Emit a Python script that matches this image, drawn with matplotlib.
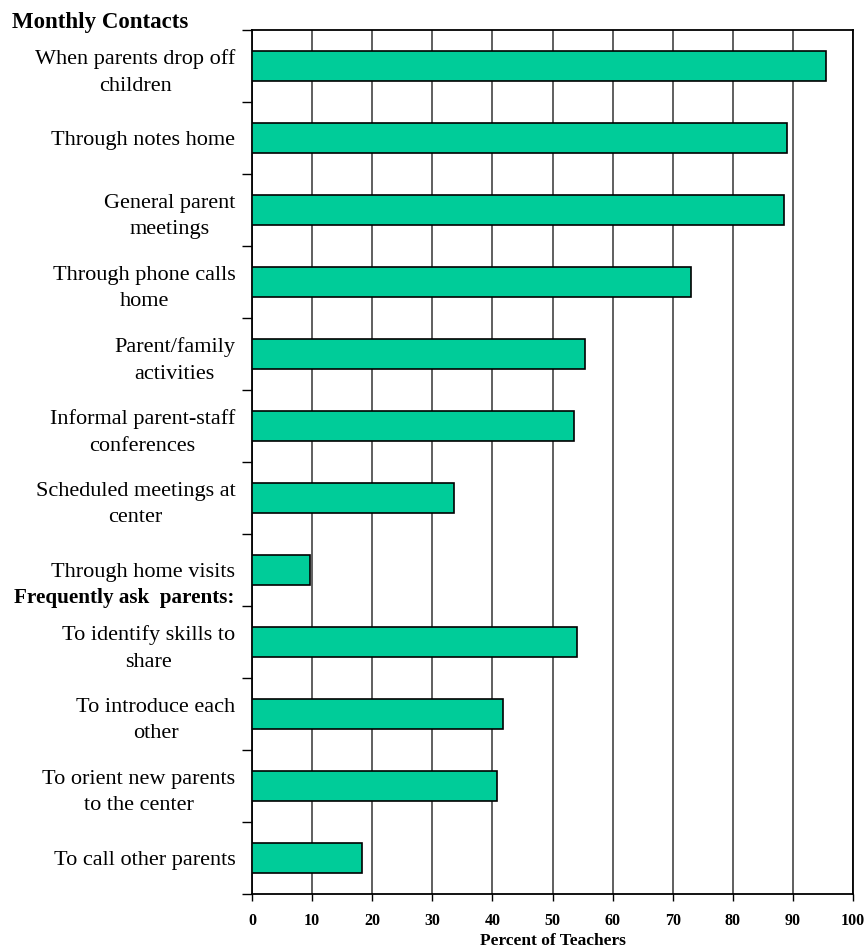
import numpy as np
import matplotlib.pyplot as plt

labels = [
    "When parents drop off\nchildren",
    "Through notes home",
    "General parent\nmeetings",
    "Through phone calls\nhome",
    "Parent/family\nactivities",
    "Informal parent-staff\nconferences",
    "Scheduled meetings at\ncenter",
    "Through home visits",
    "To identify skills to\nshare",
    "To introduce each\nother",
    "To orient new parents\nto the center",
    "To call other parents",
]
percent = [95.5, 89.1, 88.6, 73.1, 55.4, 53.5, 33.6, 9.6, 54.0, 41.7, 40.7, 18.3]
xticks = [0, 10, 20, 30, 40, 50, 60, 70, 80, 90, 100]

plt.rcParams['font.family'] = ['Liberation Serif', 'DejaVu Serif']

fig = plt.figure(figsize=(8.66, 9.51), dpi=100)
ax = fig.add_axes([252 / 866, 1 - 894 / 951, 601 / 866, 864 / 951])

y = np.arange(len(labels))
ax.barh(y, percent, height=0.43, color='#00CC99', edgecolor='black', linewidth=1.2, zorder=3)

ax.set_xlim(0, 100)
ax.set_ylim(len(labels) - 0.5, -0.5)

ax.set_xticks(xticks)
ax.set_xticklabels([str(t) for t in xticks], fontsize=11.5, fontweight='bold')
ax.tick_params(axis='x', direction='out', length=5, width=1, pad=9)

# boundary ticks without labels, labels on minor ticks at bar centers
ax.set_yticks(np.arange(len(labels) + 1) - 0.5)
ax.set_yticklabels([])
ax.set_yticks(y, minor=True)
ax.set_yticklabels(labels, minor=True, fontsize=16, ha='right', multialignment='center',
                   linespacing=1.55)
ax.tick_params(axis='y', which='major', direction='out', length=7, width=1)
ax.tick_params(axis='y', which='minor', length=0, pad=12)

ax.grid(axis='x', color='#444444', linewidth=1.2, zorder=0)
ax.set_axisbelow(True)
for s in ax.spines.values():
    s.set_color('black')
    s.set_linewidth(1.3)

xl = ax.set_xlabel('Percent of Teachers', fontsize=12.5, fontweight='bold')
xl.set_va('baseline')
ax.xaxis.set_label_coords(0.5, -(945 - 894) / 864)

fig.text(12 / 866, 1 - 28 / 951, 'Monthly Contacts', fontsize=16.5, fontweight='bold',
         ha='left', va='baseline')
fig.text(234 / 866, 1 - 603 / 951, 'Frequently ask  parents:', fontsize=15.2, fontweight='bold',
         ha='right', va='baseline')

fig.savefig('out.png', dpi=100)
